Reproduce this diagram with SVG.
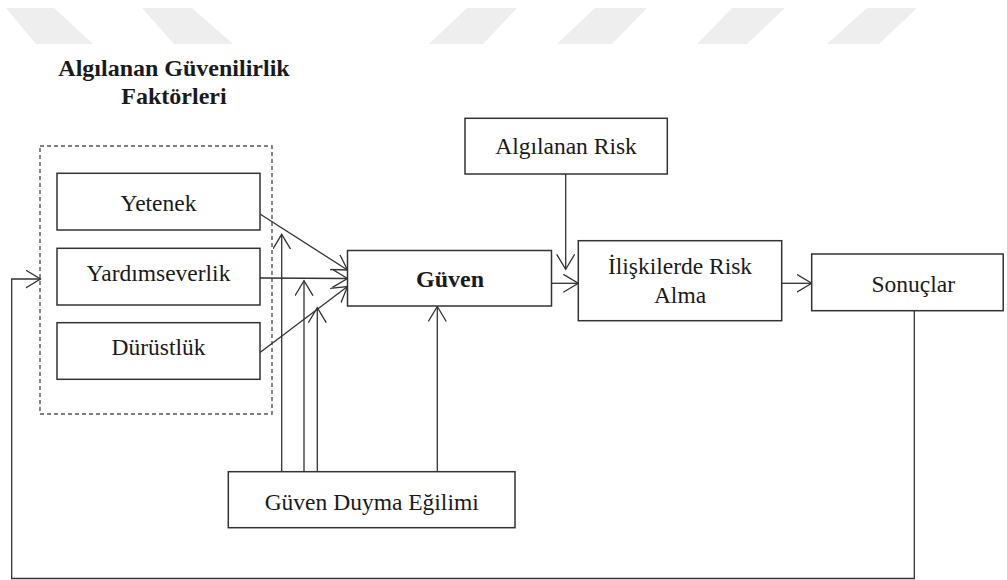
<svg xmlns="http://www.w3.org/2000/svg" width="1007" height="580" viewBox="0 0 1007 580">
  <style>
    .box { fill: #ffffff; stroke: #333333; stroke-width: 1.5; }
    .group { fill: none; stroke: #555555; stroke-width: 1.4; stroke-dasharray: 4 3; }
    .lbl { font-family: 'Liberation Serif', 'DejaVu Serif', serif; font-size: 23.5px; fill: #1a1a1a; text-anchor: middle; }
    .bold { font-weight: bold; font-size: 24px; }
    .wire { fill: none; stroke: #333333; stroke-width: 1.3; }
    .mark { fill: #eeeeee; }
  </style>
  <defs>
    <marker id="arr" markerUnits="userSpaceOnUse" markerWidth="20" markerHeight="20" refX="15" refY="9" orient="auto">
      <path d="M0,0 L15,9 L0,18" fill="none" stroke="#333333" stroke-width="1.3"/>
    </marker>
  </defs>

  <rect width="1007" height="580" fill="#ffffff"/>

  <!-- faint band marks along the top edge -->
  <g id="top-marks">
    <polygon class="mark" points="6,8 54,8 93,44 36,44"/>
    <polygon class="mark" points="142,8 192,8 233,44 174,44"/>
    <polygon class="mark" points="467,8 517,8 483,44 429,44"/>
    <polygon class="mark" points="595,8 647,8 612,44 557,44"/>
    <polygon class="mark" points="732,8 785,8 747,44 697,44"/>
    <polygon class="mark" points="867,8 917,8 879,44 827,44"/>
  </g>

  <!-- group title -->
  <g id="title" font-family="Liberation Serif, serif">
    <text class="lbl bold" x="174" y="76">Algılanan Güvenilirlik</text>
    <text class="lbl bold" x="174" y="104">Faktörleri</text>
  </g>

  <!-- dashed grouping frame -->
  <rect id="factors" class="group" x="40" y="146" width="232" height="268"/>

  <g id="connectors">
    <line class="wire" x1="260" y1="214" x2="347.5" y2="270" marker-end="url(#arr)"/>
    <line class="wire" x1="260" y1="278" x2="347.5" y2="278.5" marker-end="url(#arr)"/>
    <line class="wire" x1="260" y1="352.5" x2="347.5" y2="286.5" marker-end="url(#arr)"/>
    <line class="wire" x1="281.7" y1="471.7" x2="281.7" y2="234.3" marker-end="url(#arr)"/>
    <line class="wire" x1="304" y1="471.7" x2="304" y2="280.7" marker-end="url(#arr)"/>
    <line class="wire" x1="317.3" y1="471.7" x2="317.3" y2="307.7" marker-end="url(#arr)"/>
    <line class="wire" x1="437.3" y1="471.7" x2="437.3" y2="306.5" marker-end="url(#arr)"/>
    <line class="wire" x1="565.7" y1="174" x2="565.7" y2="269.3" marker-end="url(#arr)"/>
    <line class="wire" x1="551.5" y1="283.3" x2="578.3" y2="283.3" marker-end="url(#arr)"/>
    <line class="wire" x1="781.7" y1="283.3" x2="811.7" y2="283.3" marker-end="url(#arr)"/>
    <polyline class="wire" points="914.3,310.7 914.3,578.5 11.7,578.5 11.7,279 40.5,279" marker-end="url(#arr)"/>
  </g>

  <g id="yetenek">
    <rect class="box" x="57" y="173.3" width="203" height="56.7"/>
    <text class="lbl" x="158.5" y="210.5">Yetenek</text>
  </g>
  <g id="yardimseverlik">
    <rect class="box" x="57" y="248.3" width="203" height="56.7"/>
    <text class="lbl" x="158.5" y="281">Yardımseverlik</text>
  </g>
  <g id="durustluk">
    <rect class="box" x="57" y="322.7" width="203" height="56.6"/>
    <text class="lbl" x="158.5" y="355">Dürüstlük</text>
  </g>
  <g id="guven">
    <rect class="box" x="347.5" y="250.5" width="204" height="55.5"/>
    <text class="lbl bold" x="450" y="287.3">Güven</text>
  </g>
  <g id="algilanan-risk">
    <rect class="box" x="465" y="118.3" width="202.3" height="55.7"/>
    <text class="lbl" x="566" y="154.3">Algılanan Risk</text>
  </g>
  <g id="iliskilerde-risk-alma">
    <rect class="box" x="578.3" y="240.7" width="203.4" height="80"/>
    <text class="lbl" x="680" y="274">İlişkilerde Risk</text>
    <text class="lbl" x="680" y="303.3">Alma</text>
  </g>
  <g id="sonuclar">
    <rect class="box" x="811.7" y="254" width="191.5" height="56.7"/>
    <text class="lbl" x="913.3" y="291.7">Sonuçlar</text>
  </g>
  <g id="guven-duyma-egilimi">
    <rect class="box" x="228.3" y="471.7" width="286.7" height="56"/>
    <text class="lbl" x="371.7" y="510">Güven Duyma Eğilimi</text>
  </g>
</svg>
